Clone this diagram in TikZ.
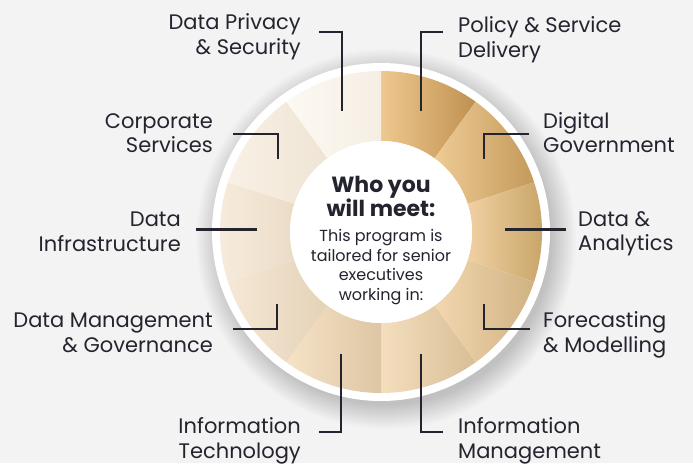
\documentclass[tikz,border=0pt]{standalone}
\usepackage{fontspec}
\setmainfont{Poppins}
\definecolor{bg}{HTML}{F3F3F3}
\definecolor{ink}{HTML}{24242F}
\definecolor{s1l}{HTML}{EEC890}\definecolor{s1r}{HTML}{BF914F}
\definecolor{s2l}{HTML}{EECB95}\definecolor{s2r}{HTML}{C49A5B}
\definecolor{s3l}{HTML}{F0D1A2}\definecolor{s3r}{HTML}{C9A468}
\definecolor{s4l}{HTML}{F2D7B0}\definecolor{s4r}{HTML}{D0B282}
\definecolor{s5l}{HTML}{F5DEBD}\definecolor{s5r}{HTML}{D7BE97}
\definecolor{s6l}{HTML}{F6E2C6}\definecolor{s6r}{HTML}{DDC6A3}
\definecolor{s7l}{HTML}{F5E8D6}\definecolor{s7r}{HTML}{E5D2B7}
\definecolor{s8l}{HTML}{F7ECDD}\definecolor{s8r}{HTML}{EBDCC7}
\definecolor{s9l}{HTML}{F9F1E6}\definecolor{s9r}{HTML}{EFE4D4}
\definecolor{s10l}{HTML}{FCF9F3}\definecolor{s10r}{HTML}{F6EEE3}
\begin{document}
\begin{tikzpicture}[x=1pt,y=1pt,
  lbl/.style={font=\fontsize{21}{24.5}\selectfont, text=ink, inner sep=0pt},
  lblL/.style={lbl, anchor=base west, align=left},
  lblR/.style={lbl, anchor=base east, align=right},
  conn/.style={draw=ink, line width=2.6pt},
  hubtitle/.style={font=\bfseries\fontsize{22}{24}\selectfont, text=ink, align=center, inner sep=0pt, anchor=base},
  hubbody/.style={font=\fontsize{16}{19.4}\selectfont, text=ink, align=center, inner sep=0pt, anchor=base}]
\useasboundingbox[fill=bg] (0,0) rectangle (693,-463);
\coordinate (C) at (381,-232);
\coordinate (S) at (386,-239);
% soft shadow built from stacked translucent discs
\foreach \r in {166,167,...,190}{
  \fill[black, opacity=0.009] (S) circle[radius=\r];
}
% outer white ring
\node[circle, fill=white, minimum size=338pt, inner sep=0pt] (ring) at (C) {};
% wedges
\foreach \a/\cl/\cr in {54/s1l/s1r, 18/s2l/s2r, -18/s3l/s3r, -54/s4l/s4r, -90/s5l/s5r,
  -126/s6l/s6r, -162/s7l/s7r, 162/s8l/s8r, 126/s9l/s9r, 90/s10l/s10r}{
  \pgfmathsetmacro\b{\a+36}
  \shade[left color=\cl, right color=\cr]
    ([shift={(C)}]\a:161) arc[start angle=\a, end angle=\b, radius=161]
    -- ([shift={(C)}]\b:91) arc[start angle=\b, end angle=\a, radius=91] -- cycle;
}
% hub
\node[circle, fill=white, minimum size=182pt, inner sep=0pt] (hub) at (C) {};
\node[hubtitle] (title) at (381,-216) {Who you\\will meet:};
\node[hubbody] (body) at (381,-300) {This program is\\tailored for senior\\executives\\working in:};
% labels (anchor = baseline of the last line)
\node[lblR] (privacy) at (301,-54) {Data Privacy\\\& Security};
\node[lblL] (policy) at (458,-57) {Policy \& Service\\Delivery};
\node[lblR] (corporate) at (213,-152.5) {Corporate\\Services};
\node[lblL] (digital) at (543,-152.5) {Digital\\Government};
\node[lblR] (infra) at (181,-251) {Data\\Infrastructure};
\node[lblL] (analytics) at (578,-250.5) {Data \&\\Analytics};
\node[lblR] (mgmt) at (213,-352) {Data Management\\\& Governance};
\node[lblL] (forecast) at (543,-352) {Forecasting\\\& Modelling};
\node[lblR] (infotech) at (301,-458) {Information\\Technology};
\node[lblL] (infomgmt) at (458,-458) {Information\\Management};
% connector points
\coordinate (privA) at (319,-32); \coordinate (privB) at (342,-32); \coordinate (privC) at (342,-111);
\coordinate (polA) at (443,-32); \coordinate (polB) at (421,-32); \coordinate (polC) at (421,-111);
\coordinate (corA) at (233,-134); \coordinate (corB) at (278,-134); \coordinate (corC) at (278,-159);
\coordinate (digA) at (529,-134); \coordinate (digB) at (484,-134); \coordinate (digC) at (484,-159);
\coordinate (infA) at (196,-229.5); \coordinate (infB) at (257,-229.5);
\coordinate (anaA) at (566,-229.5); \coordinate (anaB) at (505,-229.5);
\coordinate (mgA) at (233,-329); \coordinate (mgB) at (277,-329); \coordinate (mgC) at (277,-304);
\coordinate (foA) at (530,-329); \coordinate (foB) at (484,-329); \coordinate (foC) at (484,-304);
\coordinate (itA) at (319,-432); \coordinate (itB) at (341,-432); \coordinate (itC) at (341,-354);
\coordinate (imA) at (443,-432); \coordinate (imB) at (421,-432); \coordinate (imC) at (421,-354);
\draw[conn] (privA) -- (privB) -- (privC);
\draw[conn] (polA) -- (polB) -- (polC);
\draw[conn] (corA) -- (corB) -- (corC);
\draw[conn] (digA) -- (digB) -- (digC);
\draw[conn] (infA) -- (infB);
\draw[conn] (anaA) -- (anaB);
\draw[conn] (mgA) -- (mgB) -- (mgC);
\draw[conn] (foA) -- (foB) -- (foC);
\draw[conn] (itA) -- (itB) -- (itC);
\draw[conn] (imA) -- (imB) -- (imC);
\end{tikzpicture}
\end{document}
